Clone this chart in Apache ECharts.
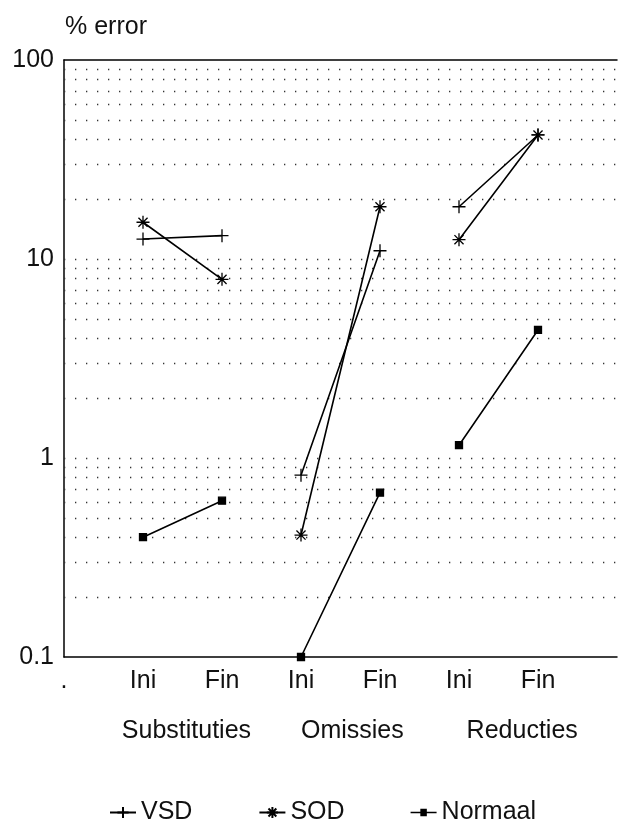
<!DOCTYPE html>
<html>
<head>
<meta charset="utf-8">
<script src="https://cdn.jsdelivr.net/npm/echarts@6/dist/echarts.min.js"></script>
<style>
html, body { margin: 0; background: #fff; }
#chart { width: 620px; height: 822px; }
</style>
</head>
<body>
<div id="chart"></div>
<script>
// x tick labels (at x = 0..7), group labels and their x positions
const tickLabels = ['.', 'Ini', 'Fin', 'Ini', 'Fin', 'Ini', 'Fin', '']
const groups = ['Substituties', 'Omissies', 'Reducties']
const groupPos = [1.55, 3.65, 5.8]

// x position of each measurement (Ini/Fin per group)
const xPos = [1, 2, 3, 4, 5, 6]

// % error per series
const vsd = [12.6, 13.1, 0.82, 11.0, 18.3, 42.0]
const sod = [15.3, 7.9, 0.41, 18.3, 12.5, 42.0]
const normaal = [0.40, 0.61, 0.10, 0.67, 1.16, 4.4]

// dotted horizontal guide lines
const guideValues = [
    0.2, 0.3, 0.4, 0.5, 0.6, 0.7, 0.8, 0.9, 1,
    2, 3, 4, 5, 6, 7, 8, 9, 10,
    20, 30, 40, 50, 60, 70, 80, 90
]

const font = '"Liberation Sans", Arial, sans-serif'

// pair up Ini/Fin points, break the line between groups
const toPoints = (vals) => {
    const out = []
    vals.forEach((v, i) => {
        out.push([xPos[i], v])
        if (i % 2 === 1 && i < vals.length - 1) out.push([xPos[i] + 0.5, '-'])
    })
    return out
}

const plusPath = 'path://M0,6L12,6M6,0L6,12'
const starPath = 'path://M6,0L6,12M0,6L12,6M1.8,1.8L10.2,10.2M10.2,1.8L1.8,10.2'
// legend icon for Normaal: short line with a small square in the middle
const normIcon = 'path://M0,4.4L9,4.4L9,1.5L15,1.5L15,4.4L24,4.4L24,5.6L15,5.6L15,8.5L9,8.5L9,5.6L0,5.6Z'

const baseSeries = (name, vals, symbol, size) => ({
    name: name,
    type: 'line',
    data: toPoints(vals),
    symbol: symbol,
    symbolSize: size,
    showSymbol: true,
    connectNulls: false,
    lineStyle: { color: '#000', width: 1.6 },
    itemStyle: { color: '#000', borderColor: '#000', borderWidth: 1.3 },
    emphasis: { disabled: true },
    z: 3,
})

const chart = echarts.init(document.getElementById('chart'))

chart.setOption({
    animation: false,
    backgroundColor: '#fff',
    title: {
        text: '% error',
        left: 60,
        top: 10,
        textStyle: { fontFamily: font, fontSize: 25, fontWeight: 'normal', color: '#111' },
    },
    grid: { left: 64, right: 2, top: 60, bottom: 165 },
    legend: {
        left: 104,
        top: 795,
        itemWidth: 26,
        itemHeight: 14,
        itemGap: 66,
        textStyle: { fontFamily: font, fontSize: 25, color: '#111' },
        data: ['VSD', 'SOD', { name: 'Normaal', icon: normIcon, itemStyle: { borderWidth: 0 } }],
    },
    xAxis: [
        {
            type: 'value',
            min: 0,
            max: 7,
            interval: 1,
            axisLine: { show: true, lineStyle: { color: '#000', width: 1.5 } },
            axisTick: { show: false },
            splitLine: { show: false },
            axisLabel: {
                margin: 12,
                fontFamily: font,
                fontSize: 25,
                color: '#111',
                formatter: (v) => tickLabels[Math.round(v)] || '',
            },
        },
        {
            type: 'value',
            min: 0,
            max: 7,
            interval: 0.05,
            position: 'bottom',
            offset: 50,
            axisLine: { show: false },
            axisTick: { show: false },
            splitLine: { show: false },
            axisLabel: {
                margin: 12,
                fontFamily: font,
                fontSize: 25,
                color: '#111',
                formatter: (v) => {
                    const i = groupPos.findIndex(p => Math.abs(p - v) < 0.01)
                    return i >= 0 ? groups[i] : ''
                },
            },
        },
        {
            type: 'value',
            min: 0,
            max: 7,
            position: 'top',
            axisLine: { show: true, lineStyle: { color: '#000', width: 1.5 } },
            axisTick: { show: false },
            axisLabel: { show: false },
            splitLine: { show: false },
        },
    ],
    yAxis: {
        type: 'log',
        logBase: 10,
        min: 0.1,
        max: 100,
        axisLine: { show: true, lineStyle: { color: '#000', width: 1.5 } },
        axisTick: { show: false },
        splitLine: { show: false },
        axisLabel: {
            margin: 10,
            fontFamily: font,
            fontSize: 25,
            color: '#111',
            formatter: (v) => String(+v.toPrecision(3)),
        },
    },
    series: [
        Object.assign(baseSeries('VSD', vsd, plusPath, 13), {
            markLine: {
                silent: true,
                symbol: 'none',
                label: { show: false },
                lineStyle: { color: '#333', width: 1.3, type: [1.3, 9.7] },
                data: guideValues.map(v => ({ yAxis: v })),
                z: 1,
            },
        }),
        baseSeries('SOD', sod, starPath, 13),
        baseSeries('Normaal', normaal, 'rect', 7),
    ],
})
</script>
</body>
</html>
